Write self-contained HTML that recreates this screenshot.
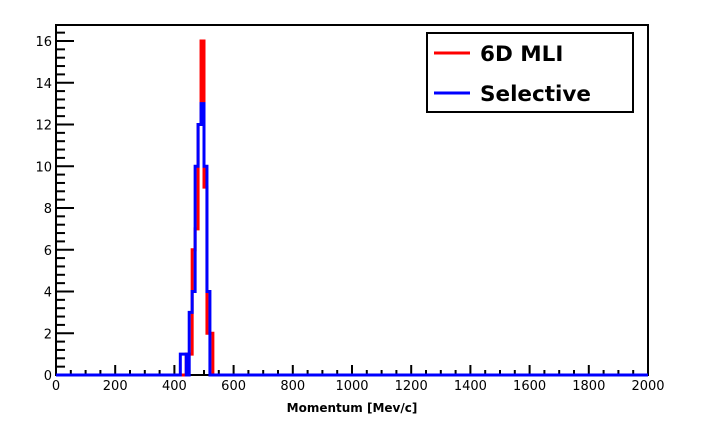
<!DOCTYPE html>
<html><head><meta charset="utf-8"><style>
body{margin:0;background:#fff;}
svg{display:block;font-family:"DejaVu Sans","Liberation Sans",sans-serif;}
</style></head><body>
<svg id="chart" width="708" height="424">
<rect x="0" y="0" width="708" height="424" fill="#fff"/>
<g id="axes"></g>
<g id="series"></g>
<g>
<rect x="427" y="33" width="206" height="79" fill="#fff" stroke="#000" stroke-width="2"/>
<line x1="434" y1="53" x2="470" y2="53" stroke="#f00" stroke-width="3"/>
<text x="480" y="61" font-size="21.5" font-weight="bold">6D MLI</text>
<line x1="434" y1="93" x2="470" y2="93" stroke="#00f" stroke-width="3"/>
<text x="480" y="101" font-size="21.5" font-weight="bold">Selective</text>
</g>
<text x="352" y="412" font-size="12" font-weight="bold" text-anchor="middle">Momentum [Mev/c]</text>
</svg>
<script>
const binStarts=[420,430,440,450,460,470,480,490,500,510,520];
const mliValues=[0,0,1,1,6,7,12,16,9,2,2];
const selValues=[1,1,0,3,4,10,12,13,10,4,0];
const xTicks=[0,200,400,600,800,1000,1200,1400,1600,1800,2000];
const yTicks=[0,2,4,6,8,10,12,14,16];
const binW=10;
const X0=56,X1=648,Y0=375,Y1=25;
const sx=v=>X0+(v/2000)*(X1-X0);
const sy=v=>Y0-v*(334/16);
const NS="http://www.w3.org/2000/svg";
const ax=document.getElementById('axes');
function mk(t,a,p){const e=document.createElementNS(NS,t);for(const k in a)e.setAttribute(k,a[k]);(p||ax).appendChild(e);return e;}
const fr=mk('rect',{x:X0,y:Y1,width:X1-X0,height:Y0-Y1,fill:'none',stroke:'#000','stroke-width':2});


for(let v=0;v<=16.6;v+=0.4){const big=Math.abs(v-Math.round(v/2)*2)<1e-6;mk('line',{x1:X0,x2:X0+(big?18:9),y1:sy(v),y2:sy(v),stroke:'#000','stroke-width':2});}
yTicks.forEach(v=>{const t=mk('text',{x:X0-4,y:sy(v)+5,'font-size':13,'text-anchor':'end'});t.textContent=v;

});
for(let v=0;v<=2000;v+=50){const big=v%200===0;mk('line',{x1:sx(v),x2:sx(v),y1:Y0,y2:Y0-(big?10:5),stroke:'#000','stroke-width':2});}
xTicks.forEach(v=>{const t=mk('text',{x:sx(v),y:Y0+15,'font-size':13,'text-anchor':'middle'});t.textContent=v;

});
const sg=document.getElementById('series');
function step(vals,color,name){let d='M'+sx(0)+','+sy(0)+' L'+sx(binStarts[0])+','+sy(0);
vals.forEach((v,i)=>{const a=sx(binStarts[i]),b=sx(binStarts[i]+binW);d+=' L'+a+','+sy(v)+' L'+b+','+sy(v);});
d+=' L'+sx(binStarts[binStarts.length-1]+binW)+','+sy(0)+' L'+sx(2000)+','+sy(0);
const p=mk('path',{d:d,fill:'none',stroke:color,'stroke-width':3},sg);

}
step(mliValues,'#f00','series-6d-mli');
step(selValues,'#00f','series-selective');
</script>
</body></html>
